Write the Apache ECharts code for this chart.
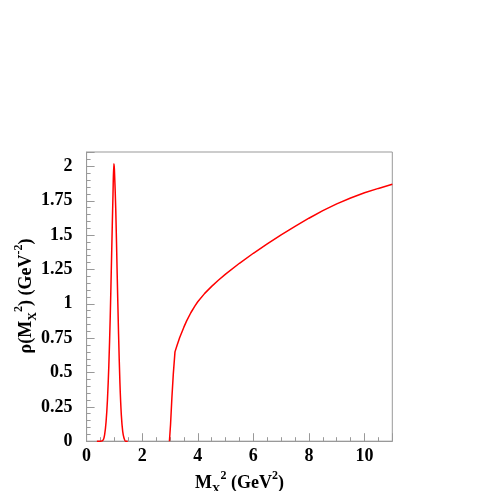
<!DOCTYPE html>
<html><head><meta charset="utf-8">
<script src="https://cdn.jsdelivr.net/npm/echarts@6/dist/echarts.min.js"></script>
<style>html,body{margin:0;padding:0;background:#fff}#c{width:491px;height:491px}</style>
</head><body><div id="c"></div>
<script>
// Narrow resonance peak (M_X^2 in GeV^2, rho in GeV^-2)
const peakX = [0.37, 0.5, 0.6, 0.65, 0.7, 0.75, 0.8, 0.85, 0.9, 0.95, 0.98, 1.0, 1.05, 1.1, 1.15, 1.2, 1.25, 1.3, 1.35, 1.4, 1.48];
const peakY = [0, 0, 0.01, 0.05, 0.14, 0.3, 0.55, 0.9, 1.35, 1.8, 2.02, 1.98, 1.68, 1.22, 0.78, 0.42, 0.19, 0.07, 0.02, 0, 0];
// Continuum above threshold
const contX = [2.98, 3.02, 3.07, 3.12, 3.18, 3.25, 3.35, 3.5, 3.6, 3.75, 3.9, 4.0, 4.25, 4.5, 4.75, 5.0, 5.5, 6.0, 6.5, 7.0, 7.5, 8.0, 8.5, 9.0, 9.5, 10.0, 10.5, 11.0];
const contY = [0, 0.12, 0.32, 0.49, 0.65, 0.695, 0.755, 0.83, 0.876, 0.935, 0.985, 1.015, 1.076, 1.127, 1.173, 1.216, 1.295, 1.368, 1.436, 1.502, 1.564, 1.623, 1.678, 1.727, 1.77, 1.808, 1.84, 1.87];
const xTicks = [0, 2, 4, 6, 8, 10];
const yTicks = [0, 0.25, 0.5, 0.75, 1, 1.25, 1.5, 1.75, 2];
const xTitle = '{a|M}{sub|X}{sup|2}{a| (GeV}{sup|2}{a|)}';
const yTitle = '{a|ρ(M}{sub|X}{sup|2}{a|) (GeV}{sup|-2}{a|)}';

const FONT = '"Liberation Serif", "DejaVu Serif", serif';
const grey = '#999999';
const rich = {
  a: {fontFamily: FONT, fontWeight: 'bold', fontSize: 18, color: '#000', lineHeight: 26, verticalAlign: 'middle'},
  sub: {fontFamily: FONT, fontWeight: 'bold', fontSize: 12, color: '#000', lineHeight: 26, verticalAlign: 'bottom'},
  sup: {fontFamily: FONT, fontWeight: 'bold', fontSize: 12, color: '#000', lineHeight: 26, verticalAlign: 'top'}
};
const pair = (xs, ys) => xs.map((x, i) => [x, ys[i]]);
const chart = echarts.init(document.getElementById('c'), null, {renderer: 'canvas'});
chart.setOption({
  animation: false,
  backgroundColor: '#fff',
  grid: {left: 86.6, right: 98.7, top: 152, bottom: 49.8, containLabel: false, outerBoundsMode: 'none',
    show: true, borderColor: grey, borderWidth: 1, backgroundColor: 'transparent'},
  graphic: [{
    type: 'text', x: 26, y: 296, rotation: Math.PI / 2, silent: true,
    style: {text: yTitle, rich: rich, align: 'center', verticalAlign: 'middle'}
  }],
  xAxis: {
    type: 'value', min: 0, max: 11, interval: 2,
    axisLine: {show: true, lineStyle: {color: grey}},
    axisTick: {show: true, inside: true, length: 8, lineStyle: {color: grey}},
    minorTick: {show: true, splitNumber: 4, length: 4, lineStyle: {color: grey}},
    splitLine: {show: false},
    axisLabel: {fontFamily: FONT, fontWeight: 'bold', fontSize: 18, color: '#000', margin: 6,
      formatter: v => xTicks.indexOf(v) >= 0 ? String(v) : ''},
    name: xTitle,
    nameLocation: 'middle', nameGap: 28,
    nameTextStyle: {rich: rich}
  },
  yAxis: {
    type: 'value', min: 0, max: 2.105, interval: 0.25,
    axisLine: {show: true, lineStyle: {color: grey}},
    axisTick: {show: true, inside: true, length: 8, lineStyle: {color: grey}},
    minorTick: {show: true, splitNumber: 5, length: 4, lineStyle: {color: grey}},
    splitLine: {show: false},
    axisLabel: {fontFamily: FONT, fontWeight: 'bold', fontSize: 18, color: '#000', margin: 14,
      formatter: v => yTicks.indexOf(v) >= 0 ? String(v) : ''}
  },
  series: [
    {type: 'line', data: pair(peakX, peakY), showSymbol: false, smooth: 0.3, lineStyle: {color: '#ff0000', width: 1.5}},
    {type: 'line', data: pair(contX, contY), showSymbol: false, smooth: false, lineStyle: {color: '#ff0000', width: 1.5}}
  ]
});
</script></body></html>
